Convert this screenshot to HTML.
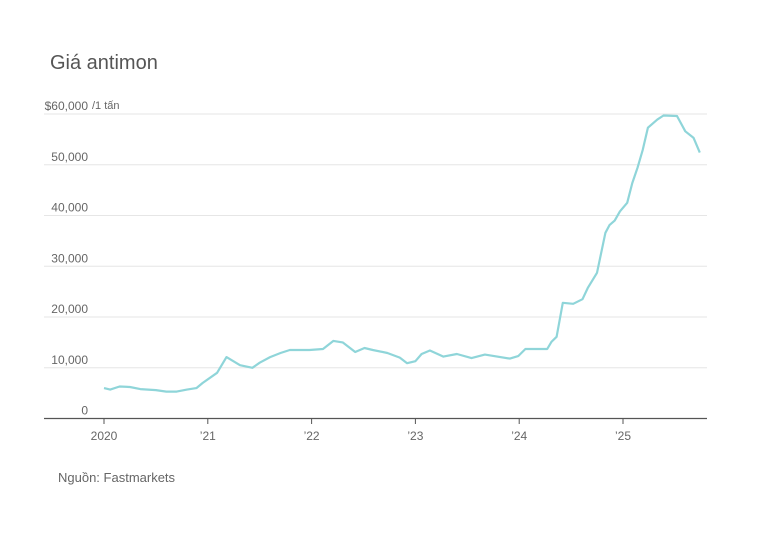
<!DOCTYPE html>
<html><head><meta charset="utf-8"><style>
body{margin:0;background:#fff;width:757px;height:550px;overflow:hidden;font-family:"Liberation Sans",sans-serif}
</style></head><body>
<svg width="757" height="550">
<text x="50" y="69" font-size="20" fill="#555">Giá antimon</text>
<g id="grid"></g>
<path id="line" fill="none" stroke="#8fd5d9" stroke-width="2.2" stroke-linejoin="round"/>
<line x1="44" x2="707" y1="418.5" y2="418.5" stroke="#555" stroke-width="1.2"/>
<g id="xt"></g>
<text x="58" y="482" font-size="13" fill="#666">Nguồn: Fastmarkets</text>
</svg>
<script>
const yTicks=[0,10000,20000,30000,40000,50000,60000];
const yLabels=["0","10,000","20,000","30,000","40,000","50,000","$60,000"];
const xTicks=[2020,2021,2022,2023,2024,2025];
const xLabels=["2020","\u201921","\u201922","\u201923","\u201924","\u201925"];
const dates=[2020.0,2020.06,2020.15,2020.25,2020.35,2020.5,2020.6,2020.7,2020.8,2020.89,2020.95,2021.09,2021.18,2021.31,2021.43,2021.5,2021.6,2021.7,2021.79,2021.98,2022.11,2022.21,2022.3,2022.42,2022.51,2022.59,2022.73,2022.85,2022.92,2023.0,2023.06,2023.14,2023.27,2023.4,2023.54,2023.67,2023.91,2023.99,2024.06,2024.27,2024.31,2024.36,2024.42,2024.52,2024.61,2024.66,2024.75,2024.83,2024.87,2024.92,2024.97,2025.04,2025.09,2025.14,2025.19,2025.24,2025.33,2025.39,2025.52,2025.6,2025.68,2025.74];
const prices=[6000,5700,6300,6200,5800,5600,5300,5300,5700,6000,7000,9000,12100,10500,10000,11000,12100,12900,13500,13500,13700,15300,15000,13100,13900,13500,12900,12000,10900,11300,12700,13400,12200,12700,11900,12600,11800,12300,13700,13700,15100,16100,22800,22600,23500,25700,28700,36600,38100,39000,40800,42500,46400,49400,52900,57300,58900,59700,59600,56600,55300,52400];
const X=d=>104+(d-2020)*103.8;
const Y=v=>418.5-v/60000*304.5;
const ns="http://www.w3.org/2000/svg";
const grid=document.getElementById('grid');
yTicks.forEach((t,i)=>{
  if(t>0){const l=document.createElementNS(ns,'line');
  l.setAttribute('x1',44);l.setAttribute('x2',707);l.setAttribute('y1',Y(t));l.setAttribute('y2',Y(t));
  l.setAttribute('stroke','#e6e6e6');
  
  
  grid.appendChild(l);}
  const tx=document.createElementNS(ns,'text');
  tx.setAttribute('x',88);tx.setAttribute('y',Y(t)-4);tx.setAttribute('text-anchor','end');
  tx.setAttribute('font-size','12');tx.setAttribute('fill','#666');tx.textContent=yLabels[i];
  
  
  grid.appendChild(tx);
});
const u=document.createElementNS(ns,'text');
u.setAttribute('x',92);u.setAttribute('y',Y(60000)-5);u.setAttribute('font-size','11');u.setAttribute('fill','#666');u.textContent='/1 tấn';


grid.appendChild(u);
const xt=document.getElementById('xt');
xTicks.forEach((t,i)=>{
  const l=document.createElementNS(ns,'line');
  l.setAttribute('x1',X(t));l.setAttribute('x2',X(t));l.setAttribute('y1',418);l.setAttribute('y2',424);l.setAttribute('stroke','#555');
  
  
  xt.appendChild(l);
  const tx=document.createElementNS(ns,'text');
  tx.setAttribute('x',X(t));tx.setAttribute('y',440);tx.setAttribute('text-anchor','middle');
  tx.setAttribute('font-size','12');tx.setAttribute('fill','#666');tx.textContent=xLabels[i];
  
  
  xt.appendChild(tx);
});
const n=Math.min(dates.length,prices.length);
let d='';for(let i=0;i<n;i++)d+=(i?'L':'M')+X(dates[i]).toFixed(1)+','+Y(prices[i]).toFixed(1);
document.getElementById('line').setAttribute('d',d);
</script>
</body></html>
